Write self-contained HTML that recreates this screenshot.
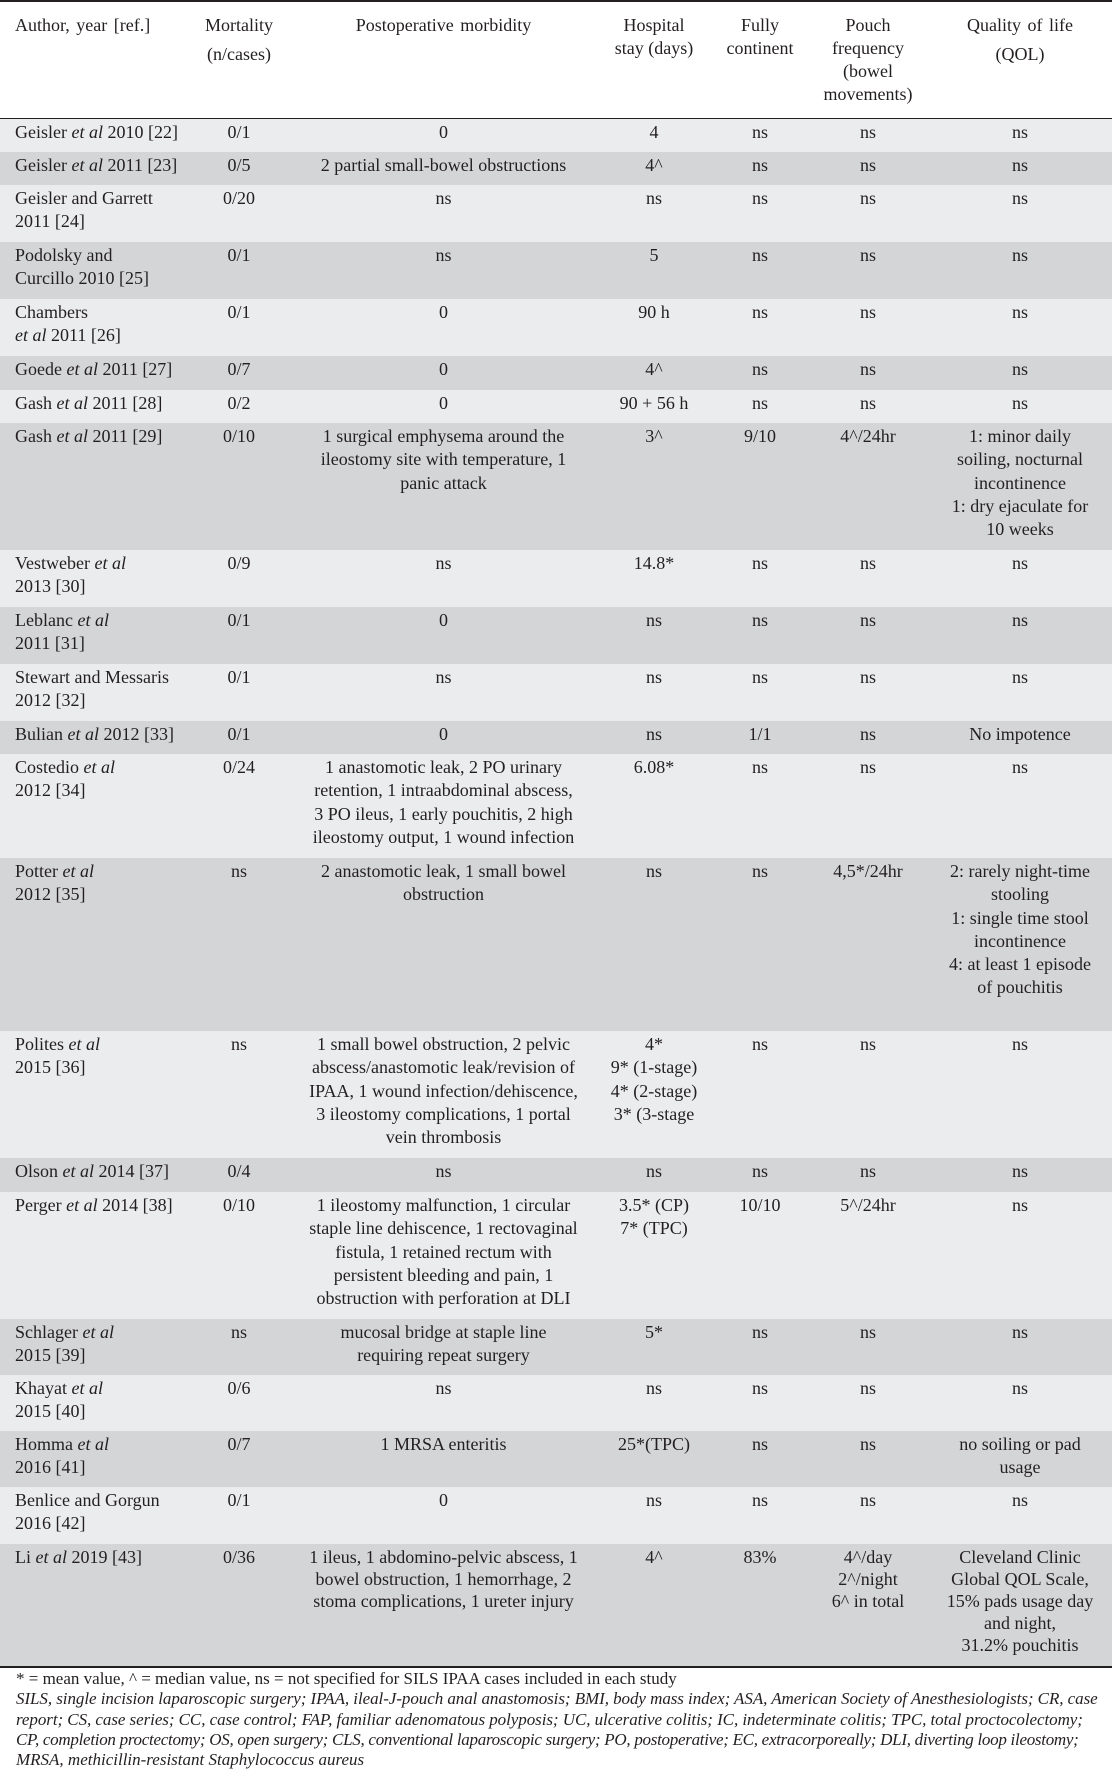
<!DOCTYPE html>
<html><head><meta charset="utf-8">
<style>
html,body{margin:0;padding:0;background:#fff;}
body{width:1112px;height:1772px;position:relative;overflow:hidden;font-family:"Liberation Serif",serif;color:#231f20;}
.r{position:absolute;left:0;width:1112px;}
.L{background:#ebeced;}
.D{background:#d4d5d7;}
.c{position:absolute;top:2px;font-size:18px;line-height:23.3px;white-space:nowrap;text-align:center;}
.a{left:15px;text-align:left;}
.m{left:189px;width:100px;}
.p{left:293px;width:301px;}
.h{left:584px;width:140px;}
.f{left:710px;width:100px;}
.q{left:793px;width:150px;}
.l{left:930px;width:180px;}
.hd{position:absolute;font-size:18px;line-height:23.3px;white-space:nowrap;text-align:center;}
.rule{position:absolute;left:0;width:1112px;background:#231f20;}
.ft{position:absolute;left:16px;top:1669px;font-size:17px;line-height:20.3px;white-space:nowrap;}
.ft i{font-style:italic;}
</style></head><body>

<div class="rule" style="top:0;height:1.5px"></div>

<div class="hd" style="left:15px;top:13.5px;text-align:left;word-spacing:2px">Author, year [ref.]</div>
<div class="hd" style="left:189px;width:100px;top:13.5px">Mortality</div>
<div class="hd" style="left:189px;width:100px;top:42.5px">(n/cases)</div>
<div class="hd" style="left:293px;width:301px;top:13.5px;word-spacing:2px">Postoperative morbidity</div>
<div class="hd" style="left:584px;width:140px;top:13.5px">Hospital<br>stay (days)</div>
<div class="hd" style="left:710px;width:100px;top:13.5px">Fully<br>continent</div>
<div class="hd" style="left:793px;width:150px;top:13.5px">Pouch<br>frequency<br>(bowel<br>movements)</div>
<div class="hd" style="left:930px;width:180px;top:13.5px;word-spacing:2px">Quality of life</div>
<div class="hd" style="left:930px;width:180px;top:42.5px">(QOL)</div>

<div class="rule" style="top:118px;height:1.2px"></div>

<div class="r L" style="top:119px;height:32.5px">
<div class="c a">Geisler <i>et al</i> 2010 [22]</div><div class="c m">0/1</div><div class="c p">0</div><div class="c h">4</div><div class="c f">ns</div><div class="c q">ns</div><div class="c l">ns</div></div>

<div class="r D" style="top:151.5px;height:33.5px">
<div class="c a">Geisler <i>et al</i> 2011 [23]</div><div class="c m">0/5</div><div class="c p">2 partial small-bowel obstructions</div><div class="c h">4^</div><div class="c f">ns</div><div class="c q">ns</div><div class="c l">ns</div></div>

<div class="r L" style="top:185px;height:57px">
<div class="c a">Geisler and Garrett<br>2011 [24]</div><div class="c m">0/20</div><div class="c p">ns</div><div class="c h">ns</div><div class="c f">ns</div><div class="c q">ns</div><div class="c l">ns</div></div>

<div class="r D" style="top:242px;height:57px">
<div class="c a">Podolsky and<br>Curcillo 2010 [25]</div><div class="c m">0/1</div><div class="c p">ns</div><div class="c h">5</div><div class="c f">ns</div><div class="c q">ns</div><div class="c l">ns</div></div>

<div class="r L" style="top:299px;height:57px">
<div class="c a">Chambers<br><i>et al</i> 2011 [26]</div><div class="c m">0/1</div><div class="c p">0</div><div class="c h">90 h</div><div class="c f">ns</div><div class="c q">ns</div><div class="c l">ns</div></div>

<div class="r D" style="top:356px;height:34px">
<div class="c a">Goede <i>et al</i> 2011 [27]</div><div class="c m">0/7</div><div class="c p">0</div><div class="c h">4^</div><div class="c f">ns</div><div class="c q">ns</div><div class="c l">ns</div></div>

<div class="r L" style="top:390px;height:33px">
<div class="c a">Gash <i>et al</i> 2011 [28]</div><div class="c m">0/2</div><div class="c p">0</div><div class="c h">90 + 56 h</div><div class="c f">ns</div><div class="c q">ns</div><div class="c l">ns</div></div>

<div class="r D" style="top:423px;height:127px">
<div class="c a">Gash <i>et al</i> 2011 [29]</div><div class="c m">0/10</div><div class="c p">1 surgical emphysema around the<br>ileostomy site with temperature, 1<br>panic attack</div><div class="c h">3^</div><div class="c f">9/10</div><div class="c q">4^/24hr</div><div class="c l">1: minor daily<br>soiling, nocturnal<br>incontinence<br>1: dry ejaculate for<br>10 weeks</div></div>

<div class="r L" style="top:550px;height:57px">
<div class="c a">Vestweber <i>et al</i><br>2013 [30]</div><div class="c m">0/9</div><div class="c p">ns</div><div class="c h">14.8*</div><div class="c f">ns</div><div class="c q">ns</div><div class="c l">ns</div></div>

<div class="r D" style="top:607px;height:57px">
<div class="c a">Leblanc <i>et al</i><br>2011 [31]</div><div class="c m">0/1</div><div class="c p">0</div><div class="c h">ns</div><div class="c f">ns</div><div class="c q">ns</div><div class="c l">ns</div></div>

<div class="r L" style="top:664px;height:57px">
<div class="c a">Stewart and Messaris<br>2012 [32]</div><div class="c m">0/1</div><div class="c p">ns</div><div class="c h">ns</div><div class="c f">ns</div><div class="c q">ns</div><div class="c l">ns</div></div>

<div class="r D" style="top:721px;height:33px">
<div class="c a">Bulian <i>et al</i> 2012 [33]</div><div class="c m">0/1</div><div class="c p">0</div><div class="c h">ns</div><div class="c f">1/1</div><div class="c q">ns</div><div class="c l">No impotence</div></div>

<div class="r L" style="top:754px;height:104px">
<div class="c a">Costedio <i>et al</i><br>2012 [34]</div><div class="c m">0/24</div><div class="c p">1 anastomotic leak, 2 PO urinary<br>retention, 1 intraabdominal abscess,<br>3 PO ileus, 1 early pouchitis, 2 high<br>ileostomy output, 1 wound infection</div><div class="c h">6.08*</div><div class="c f">ns</div><div class="c q">ns</div><div class="c l">ns</div></div>

<div class="r D" style="top:858px;height:173px">
<div class="c a">Potter <i>et al</i><br>2012 [35]</div><div class="c m">ns</div><div class="c p">2 anastomotic leak, 1 small bowel<br>obstruction</div><div class="c h">ns</div><div class="c f">ns</div><div class="c q">4,5*/24hr</div><div class="c l">2: rarely night-time<br>stooling<br>1: single time stool<br>incontinence<br>4: at least 1 episode<br>of pouchitis</div></div>

<div class="r L" style="top:1031px;height:127px">
<div class="c a">Polites <i>et al</i><br>2015 [36]</div><div class="c m">ns</div><div class="c p">1 small bowel obstruction, 2 pelvic<br>abscess/anastomotic leak/revision of<br>IPAA, 1 wound infection/dehiscence,<br>3 ileostomy complications, 1 portal<br>vein thrombosis</div><div class="c h">4*<br>9* (1-stage)<br>4* (2-stage)<br>3* (3-stage</div><div class="c f">ns</div><div class="c q">ns</div><div class="c l">ns</div></div>

<div class="r D" style="top:1158px;height:34px">
<div class="c a">Olson <i>et al</i> 2014 [37]</div><div class="c m">0/4</div><div class="c p">ns</div><div class="c h">ns</div><div class="c f">ns</div><div class="c q">ns</div><div class="c l">ns</div></div>

<div class="r L" style="top:1192px;height:126.5px">
<div class="c a">Perger <i>et al</i> 2014 [38]</div><div class="c m">0/10</div><div class="c p">1 ileostomy malfunction, 1 circular<br>staple line dehiscence, 1 rectovaginal<br>fistula, 1 retained rectum with<br>persistent bleeding and pain, 1<br>obstruction with perforation at DLI</div><div class="c h">3.5* (CP)<br>7* (TPC)</div><div class="c f">10/10</div><div class="c q">5^/24hr</div><div class="c l">ns</div></div>

<div class="r D" style="top:1318.5px;height:56.5px">
<div class="c a">Schlager <i>et al</i><br>2015 [39]</div><div class="c m">ns</div><div class="c p">mucosal bridge at staple line<br>requiring repeat surgery</div><div class="c h">5*</div><div class="c f">ns</div><div class="c q">ns</div><div class="c l">ns</div></div>

<div class="r L" style="top:1375px;height:55.5px">
<div class="c a">Khayat <i>et al</i><br>2015 [40]</div><div class="c m">0/6</div><div class="c p">ns</div><div class="c h">ns</div><div class="c f">ns</div><div class="c q">ns</div><div class="c l">ns</div></div>

<div class="r D" style="top:1430.5px;height:56.5px">
<div class="c a">Homma <i>et al</i><br>2016 [41]</div><div class="c m">0/7</div><div class="c p">1 MRSA enteritis</div><div class="c h">25*(TPC)</div><div class="c f">ns</div><div class="c q">ns</div><div class="c l">no soiling or pad<br>usage</div></div>

<div class="r L" style="top:1487px;height:57px">
<div class="c a">Benlice and Gorgun<br>2016 [42]</div><div class="c m">0/1</div><div class="c p">0</div><div class="c h">ns</div><div class="c f">ns</div><div class="c q">ns</div><div class="c l">ns</div></div>

<div class="r D" style="top:1544px;height:122px">
<div class="c a" style="line-height:22px">Li <i>et al</i> 2019 [43]</div><div class="c m" style="line-height:22px">0/36</div><div class="c p" style="line-height:22px">1 ileus, 1 abdomino-pelvic abscess, 1<br>bowel obstruction, 1 hemorrhage, 2<br>stoma complications, 1 ureter injury</div><div class="c h" style="line-height:22px">4^</div><div class="c f" style="line-height:22px">83%</div><div class="c q" style="line-height:22px">4^/day<br>2^/night<br>6^ in total</div><div class="c l" style="line-height:22px">Cleveland Clinic<br>Global QOL Scale,<br>15% pads usage day<br>and night,<br>31.2% pouchitis</div></div>

<div class="rule" style="top:1666px;height:2px"></div>

<div class="ft">* = mean value, ^ = median value, ns = not specified for SILS IPAA cases included in each study<br>
<i style="letter-spacing:-0.06px">SILS, single incision laparoscopic surgery; IPAA, ileal-J-pouch anal anastomosis; BMI, body mass index; ASA, American Society of Anesthesiologists; CR, case</i><br>
<i style="letter-spacing:-0.06px">report; CS, case series; CC, case control; FAP, familiar adenomatous polyposis; UC, ulcerative colitis; IC, indeterminate colitis; TPC, total proctocolectomy;</i><br>
<i style="letter-spacing:-0.28px">CP, completion proctectomy; OS, open surgery; CLS, conventional laparoscopic surgery; PO, postoperative; EC, extracorporeally; DLI, diverting loop ileostomy;</i><br>
<i>MRSA, methicillin-resistant Staphylococcus aureus</i></div>

</body></html>
